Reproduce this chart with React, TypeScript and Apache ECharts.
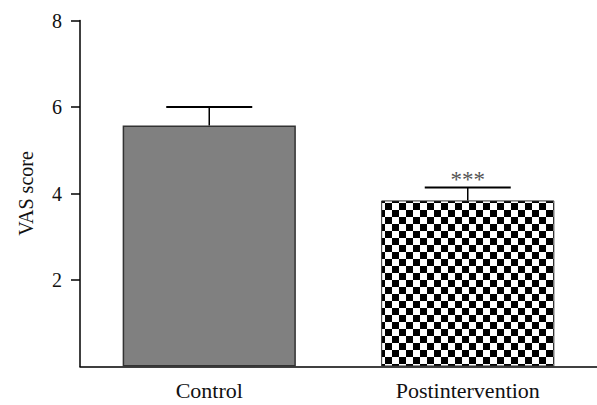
import React, { useEffect, useRef } from "react";
import * as echarts from "echarts";

const categories = ["Control", "Postintervention"];
const means = [5.57, 3.84];
const errorTops = [6.0, 4.14];
const significance = ["", "***"];
const yTicks = [2, 4, 6, 8];

function makeChecker(): HTMLCanvasElement {
  const c = document.createElement("canvas");
  c.width = 14;
  c.height = 14;
  const ctx = c.getContext("2d")!;
  ctx.fillStyle = "#ffffff";
  ctx.fillRect(0, 0, 14, 14);
  ctx.fillStyle = "#000000";
  ctx.fillRect(0, 0, 7, 7);
  ctx.fillRect(7, 7, 7, 7);
  return c;
}

export default function App() {
  const ref = useRef<HTMLDivElement>(null);
  useEffect(() => {
    if (!ref.current) return;
    const chart = echarts.init(ref.current, undefined, { renderer: "svg" });
    const font = "Liberation Serif";
    const checker = makeChecker();
    chart.setOption({
      animation: false,
      backgroundColor: "#ffffff",
      textStyle: { fontFamily: font },
      grid: { left: 80, right: -3, top: 20.5, bottom: 38.5, containLabel: false },
      xAxis: {
        type: "category",
        data: categories,
        axisLine: { lineStyle: { color: "#000", width: 1.5 } },
        axisTick: { alignWithLabel: true, length: 10, lineStyle: { color: "#000", width: 1.5 } },
        axisLabel: { color: "#111", fontFamily: font, fontSize: 22, margin: 13 },
      },
      yAxis: {
        type: "value",
        min: 0,
        max: 8,
        interval: 2,
        name: "VAS score",
        nameLocation: "middle",
        nameGap: 44,
        nameTextStyle: { color: "#111", fontFamily: font, fontSize: 20 },
        splitLine: { show: false },
        axisLine: { show: true, lineStyle: { color: "#000", width: 1.5 } },
        axisTick: { show: true, length: 9, customValues: yTicks, lineStyle: { color: "#000", width: 1.5 } },
        axisLabel: { color: "#111", fontFamily: font, fontSize: 20, margin: 18, customValues: yTicks },
      },
      series: [
        {
          type: "bar",
          barWidth: "67%",
          data: means.map((v, i) => ({
            value: v,
            itemStyle:
              i === 0
                ? { color: "#808080", borderColor: "#333", borderWidth: 1.5 }
                : { color: { image: checker, repeat: "repeat" }, borderColor: "#333", borderWidth: 1 },
          })),
          z: 2,
        },
        {
          type: "custom",
          z: 3,
          data: categories.map((c, i) => [i, means[i], errorTops[i]]),
          renderItem: (params: any, api: any) => {
            const x = api.value(0);
            const base = api.coord([x, api.value(1)]);
            const top = api.coord([x, api.value(2)]);
            const half = 43;
            const children: any[] = [
              { type: "line", shape: { x1: base[0], y1: base[1], x2: top[0], y2: top[1] }, style: { stroke: "#000", lineWidth: 1.5 } },
              { type: "line", shape: { x1: top[0] - half, y1: top[1], x2: top[0] + half, y2: top[1] }, style: { stroke: "#000", lineWidth: 2 } },
            ];
            const s = significance[params.dataIndex];
            if (s) {
              children.push({
                type: "text",
                x: top[0],
                y: top[1] + 4,
                style: { text: s, fill: "#555", fontFamily: font, fontSize: 23, align: "center", verticalAlign: "bottom" },
              });
            }
            return { type: "group", children };
          },
        },
      ],
    });
    return () => chart.dispose();
  }, []);
  return <div ref={ref} style={{ width: 597, height: 405, position: "absolute", left: 0, top: 0 }} />;
}
